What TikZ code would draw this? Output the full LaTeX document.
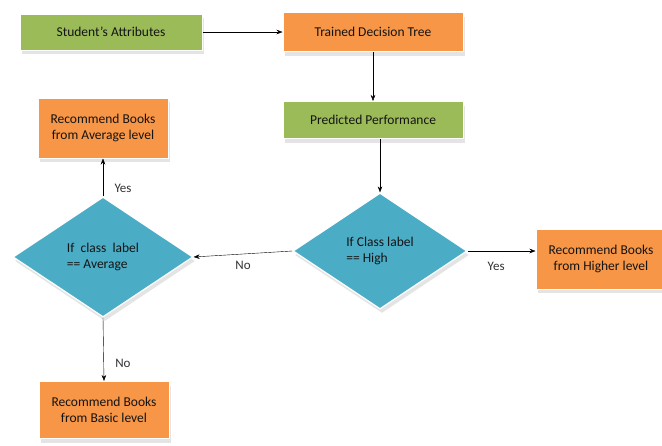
\documentclass[tikz,border=0pt]{standalone}
\usepackage{fontspec}
\setmainfont{Carlito}
\usetikzlibrary{shapes.geometric,shadows,arrows.meta}
\definecolor{boxgreen}{HTML}{9BBB59}
\definecolor{boxorange}{HTML}{F79646}
\definecolor{boxblue}{HTML}{4BACC6}
\begin{document}
\begin{tikzpicture}[
        x=1pt, y=-1pt,
        box/.style={rectangle, draw=white, line width=1pt, align=center, inner sep=2pt, text=black!92,
            font=\fontsize{13.5}{16.5}\selectfont,
            drop shadow={shadow xshift=2pt, shadow yshift=-4pt, fill=gray!70, opacity=.3}},
        greenbox/.style={box, fill=boxgreen, minimum width=182pt, minimum height=36pt},
        orangebox/.style={box, fill=boxorange, minimum width=130pt, minimum height=60pt},
        decision/.style={diamond, draw=white, line width=1.2pt, fill=boxblue, align=left, inner sep=0pt,
            text=black!92, font=\fontsize{13.5}{16.5}\selectfont,
            minimum width=174pt, minimum height=116pt,
            drop shadow={shadow xshift=2pt, shadow yshift=-4pt, fill=gray!70, opacity=.3}},
        answer/.style={font=\fontsize{13}{15}\selectfont, text=black!80},
        >={Stealth[length=6pt, width=4.5pt]},
        node distance=262pt
    ]
        \useasboundingbox (0,0) rectangle (662,445);

        \node[greenbox] (attr) at (111,32) {Student's Attributes};
        \node[box, fill=boxorange, minimum width=180pt, minimum height=39pt, right of=attr] (tree) {Trained Decision Tree};
        \node[greenbox, minimum width=180pt, minimum height=37pt, below of=tree, node distance=88pt] (pred) {Predicted Performance};

        \node[decision] (high) at (380,251) {If Class label\\== High};
        \node[decision, minimum width=180pt, minimum height=120pt] (avgq) at (103,257) {If\ \ class\ \ label\\== Average};

        \node[orangebox] (higher) at (601,259) {Recommend Books\\from Higher level};
        \node[orangebox] (avgbook) at (103,128) {Recommend Books\\from Average level};
        \node[orangebox, minimum height=57pt] (basic) at (104,410) {Recommend Books\\from Basic level};

        \draw[->] (attr.east) -- (attr.east -| tree.west);
        \draw[->] (tree) -- (pred);
        \draw[->] (pred.south -| high.north) -- (high.north);
        \draw[->] (high.west) -- node[answer, below=4pt] {No} (avgq.east);
        \draw[->] (high.east) -- node[answer, below=8pt, pos=0.42] {Yes} (high.east -| higher.west);
        \draw[->] (avgq.north) -- node[answer, right=8pt, pos=0.2] {Yes} (avgbook.south);
        \draw[->] (avgq.south) -- node[answer, right=8pt, pos=0.72] {No} (basic.north);
    \end{tikzpicture}
\end{document}
